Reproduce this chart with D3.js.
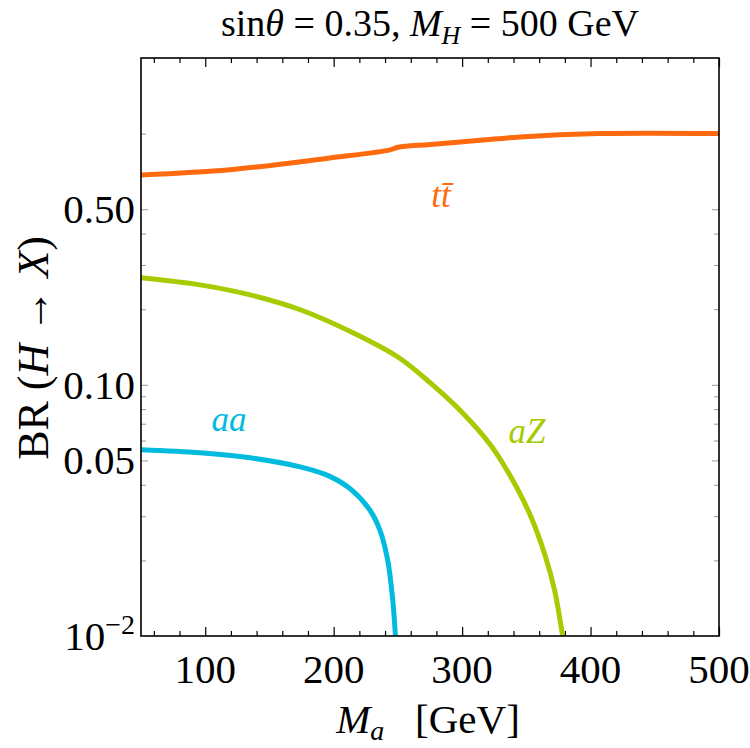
<!DOCTYPE html>
<html lang="en">
<head>
  <meta charset="utf-8">
  <title>BR(H -> X) vs Ma</title>
  <style>
body {
  margin: 0;
  background-color: #fff;
  font-family: "Liberation Serif", "Times New Roman", serif;
}
.frame { fill: none; stroke: #000; stroke-width: 1.6; }
.xt line { stroke: #000; stroke-width: 1.2; }
.yt line { stroke: #999; stroke-width: 1; }
.domain { display: none; }
.lbl { font-size: 41px; fill: #000; }
  </style>
  <script src="https://cdnjs.cloudflare.com/ajax/libs/d3/7.8.5/d3.min.js"></script>
</head>
<body>
<div id="chart"></div>
<script>

// data
var ttMa  = [50, 119, 197, 244, 250, 275, 314, 345, 407, 500];
var ttBR  = [0.685, 0.718, 0.80, 0.862, 0.882, 0.905, 0.94, 0.97, 1.0, 1.0];

var aZMa  = [50, 96, 135, 174, 213, 250, 275, 298, 322, 337, 353, 364.5, 372, 378, 380];
var aZBR  = [0.267, 0.250, 0.228, 0.199, 0.163, 0.129, 0.102, 0.0795, 0.0577, 0.0438, 0.0303, 0.0210, 0.0152, 0.0102, 0.0088];

var aaMa  = [50, 96, 135, 174, 197, 213, 228, 236, 242, 246, 248, 249];
var aaBR  = [0.0551, 0.0536, 0.0512, 0.0471, 0.0432, 0.0385, 0.0318, 0.0264, 0.0201, 0.0139, 0.0102, 0.0085];

var xMajor = [100, 200, 300, 400, 500];
var xMinor = d3.range(60, 500, 20).filter(function(d) { return d % 100 != 0; });
var yMajor = [0.01, 0.05, 0.1, 0.5];
var yLabels = ['10', '0.05', '0.10', '0.50'];
var yMinor = [0.02, 0.03, 0.04, 0.06, 0.07, 0.08, 0.09, 0.2, 0.3, 0.4, 1.0];

var w = 750, h = 748;
var m = {left: 141, right: 31, top: 58, bottom: 112};

var svg = d3.select('#chart').append('svg')
  .attr('width', w)
  .attr('height', h);

var x = d3.scaleLinear().domain([50, 500]).range([m.left, w - m.right]);
var y = d3.scaleLog().domain([0.01, 2]).range([h - m.bottom, m.top]);

var pw = w - m.left - m.right, ph = h - m.top - m.bottom;

// clip for curves
svg.append('clipPath').attr('id', 'clip')
  .append('rect').attr('x', m.left).attr('y', m.top).attr('width', pw).attr('height', ph);

// x ticks bottom & top
function xTicks(axisFn, ypos, vals, len) {
  svg.append('g').attr('class', 'xt')
    .attr('transform', 'translate(0,' + ypos + ')')
    .call(axisFn(x).tickValues(vals).tickSize(len).tickFormat(''));
}
xTicks(d3.axisBottom, h - m.bottom, xMajor, -9);
xTicks(d3.axisBottom, h - m.bottom, xMinor, -5);
xTicks(d3.axisTop, m.top, xMajor, -9);
xTicks(d3.axisTop, m.top, xMinor, -5);

// y ticks left & right
function yTicks(axisFn, xpos, vals, len) {
  svg.append('g').attr('class', 'yt')
    .attr('transform', 'translate(' + xpos + ',0)')
    .call(axisFn(y).tickValues(vals).tickSize(len).tickFormat(''));
}
yTicks(d3.axisLeft, m.left, yMajor.slice(1), -7);
yTicks(d3.axisLeft, m.left, yMinor, -5);
yTicks(d3.axisRight, w - m.right, yMajor.slice(1), -7);
yTicks(d3.axisRight, w - m.right, yMinor.filter(function(d) { return d < 1; }), -5);

// curves
var line = d3.line()
  .x(function(d) { return x(d[0]); })
  .y(function(d) { return y(d[1]); })
  .curve(d3.curveCatmullRom.alpha(0.5));

function curve(xs, ys, color) {
  svg.append('path')
    .datum(d3.zip(xs, ys))
    .attr('clip-path', 'url(#clip)')
    .attr('d', line)
    .attr('fill', 'none')
    .attr('stroke', color)
    .attr('stroke-width', 5);
}
curve(aaMa, aaBR, '#00bbdd');
curve(aZMa, aZBR, '#a6cb00');
curve(ttMa, ttBR, '#ff6a0f');

// frame
svg.append('rect').attr('class', 'frame')
  .attr('x', m.left).attr('y', m.top).attr('width', pw).attr('height', ph);

// x tick labels
svg.selectAll('.xl').data(xMajor).enter().append('text')
  .attr('class', 'lbl')
  .attr('x', function(d) { return x(d); })
  .attr('y', h - m.bottom + 47)
  .attr('text-anchor', 'middle')
  .text(function(d) { return d; });

// y tick labels
yMajor.forEach(function(d, i) {
  var t = svg.append('text').attr('class', 'lbl')
    .attr('x', m.left - 6)
    .attr('y', y(d) + 14)
    .attr('text-anchor', 'end');
  if (i == 0) {
    t.append('tspan').text('10');
    t.append('tspan').attr('dy', -16).style('font-size', '28px').text('\u22122');
  } else {
    t.text(yLabels[i]);
  }
});

// axis titles
var xt = svg.append('text').attr('class', 'lbl')
  .attr('x', 428).attr('y', 733).attr('text-anchor', 'middle');
xt.append('tspan').attr('font-style', 'italic').text('M');
xt.append('tspan').attr('font-style', 'italic').style('font-size', '28px').attr('dy', 7).text('a');
xt.append('tspan').attr('dy', -7).text('\u2002 [GeV]');

var yt = svg.append('text').attr('class', 'lbl')
  .attr('transform', 'translate(48,' + 348 + ') rotate(-90)')
  .attr('text-anchor', 'middle')
  .style('font-size', '44px');
yt.append('tspan').text('BR (');
yt.append('tspan').attr('font-style', 'italic').text('H');
yt.append('tspan').text(' \u2192 ');
yt.append('tspan').attr('font-style', 'italic').text('X');
yt.append('tspan').text(')');

// title
var tt = svg.append('text').attr('class', 'lbl')
  .attr('x', 430).attr('y', 36).attr('text-anchor', 'middle')
  .style('font-size', '38px');
tt.append('tspan').text('sin');
tt.append('tspan').attr('font-style', 'italic').text('\u03b8');
tt.append('tspan').text(' = 0.35, ');
tt.append('tspan').attr('font-style', 'italic').text('M');
tt.append('tspan').attr('font-style', 'italic').style('font-size', '26px').attr('dy', 8).text('H');
tt.append('tspan').attr('dy', -8).text(' = 500 GeV');

// curve labels
function clabel(txt, cx, cy, color) {
  return svg.append('text')
    .attr('x', cx).attr('y', cy)
    .attr('text-anchor', 'middle')
    .attr('font-style', 'italic')
    .attr('fill', color)
    .style('font-size', '35px')
    .text(txt);
}
clabel('tt\u0304', 441, 207, '#ff6a0f');
clabel('aZ', 527, 443, '#a6cb00');
clabel('aa', 229, 431, '#00bbdd');

</script>
</body>
</html>
